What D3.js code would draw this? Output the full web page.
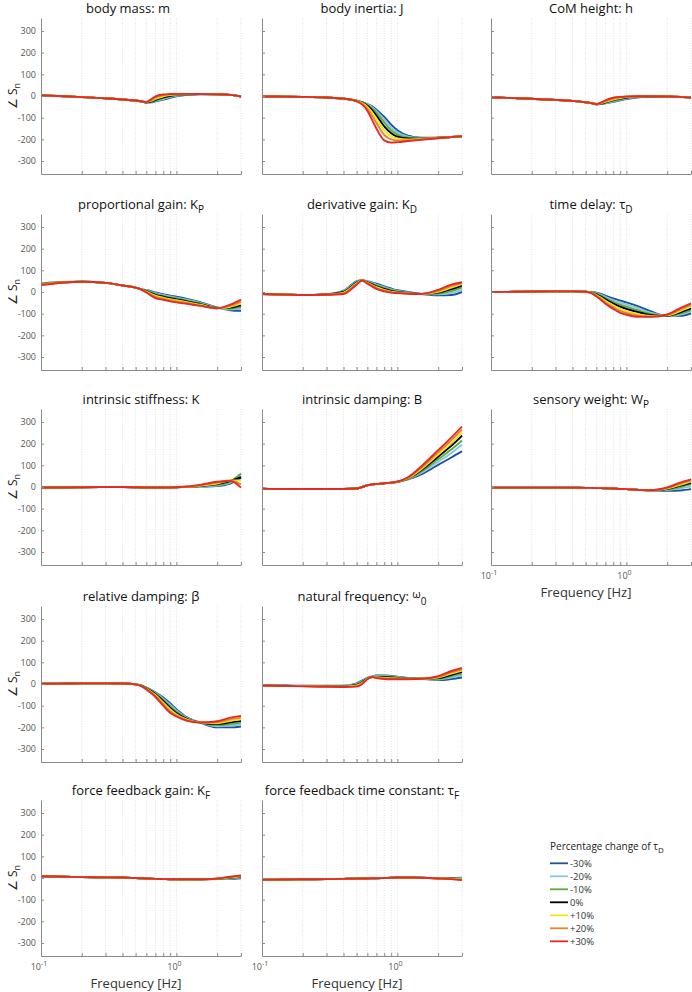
<!DOCTYPE html>
<html>
<head>
<meta charset="utf-8">
<script src="https://cdn.jsdelivr.net/npm/d3@7"></script>
<style>
body { margin: 0; background: #fff; }
text { font-family: "Open Sans", sans-serif; }
</style>
</head>
<body>
<svg id="chart" width="692" height="992"></svg>
<script>
// frequencies (Hz) at which each curve is sampled
const freq = [0.1, 0.15, 0.2, 0.3, 0.4, 0.5, 0.55, 0.6, 0.65, 0.7, 0.8, 0.9, 1.0, 1.2, 1.5, 2.0, 2.5, 3.0];

const seriesLabels = ["-30%", "-20%", "-10%", "0%", "+10%", "+20%", "+30%"];
const seriesColors = ["#1d4f9d", "#82c6e8", "#5fab3e", "#000000", "#f2e21e", "#e0892c", "#e32a24"];

const yTicks = [-300, -200, -100, 0, 100, 200, 300];
const xGrid = [0.2, 0.3, 0.4, 0.5, 0.6, 0.7, 0.8, 0.9, 1, 2, 3];

// phase of S_n (deg), one row per series: -30% .. +30%
const bodyMass = [
  [3, -1, -5, -11, -16, -21, -25, -30, -29, -25, -17, -8, -2, 5, 8, 8, 5, -3],
  [3, -1, -5, -11, -16, -21, -25, -30, -28, -23, -14, -5, 1, 6, 8, 8, 5, -3],
  [3, -1, -5, -11, -16, -21, -25, -30, -27, -21, -10, -2, 3, 7, 9, 8, 5, -3],
  [3, -1, -5, -11, -16, -21, -25, -29, -26, -18, -6, 1, 5, 8, 9, 8, 5, -3],
  [3, -1, -5, -11, -16, -21, -25, -28, -23, -13, -2, 4, 7, 9, 9, 8, 5, -3],
  [3, -1, -5, -11, -16, -21, -25, -28, -20, -8, 3, 7, 9, 10, 9, 8, 5, -3],
  [3, -1, -5, -11, -16, -21, -25, -27, -15, -2, 7, 9, 10, 10, 9, 8, 5, -3]
];
const bodyInertia = [
  [-2, -3, -4, -7, -12, -21, -28, -37, -48, -63, -96, -132, -158, -183, -192, -192, -189, -186],
  [-2, -3, -4, -7, -12, -21, -29, -39, -52, -70, -108, -145, -168, -188, -194, -192, -189, -186],
  [-2, -3, -4, -7, -12, -22, -30, -42, -58, -78, -122, -158, -178, -192, -195, -193, -189, -186],
  [-2, -3, -4, -7, -12, -22, -31, -45, -65, -90, -140, -172, -188, -196, -197, -193, -189, -186],
  [-2, -3, -4, -7, -12, -23, -33, -50, -75, -105, -160, -187, -196, -200, -198, -193, -189, -186],
  [-2, -3, -4, -7, -12, -24, -36, -58, -90, -125, -180, -200, -205, -204, -200, -194, -190, -186],
  [-2, -3, -4, -7, -12, -25, -40, -68, -110, -150, -205, -215, -213, -208, -202, -195, -190, -186]
];
const comHeight = [
  [-6, -10, -13, -18, -23, -29, -33, -38, -37, -34, -27, -20, -14, -7, -3, -2, -4, -8],
  [-6, -10, -13, -18, -23, -29, -33, -38, -36, -33, -25, -18, -12, -5, -3, -2, -4, -8],
  [-6, -10, -13, -18, -23, -29, -33, -38, -36, -31, -22, -15, -9, -4, -2, -2, -4, -8],
  [-6, -10, -13, -18, -23, -29, -33, -38, -35, -29, -19, -12, -7, -3, -2, -2, -4, -8],
  [-6, -10, -13, -18, -23, -29, -33, -38, -34, -27, -16, -9, -5, -2, -1, -2, -4, -8],
  [-6, -10, -13, -18, -23, -29, -33, -37, -32, -24, -12, -6, -3, -1, -1, -2, -4, -8],
  [-6, -10, -13, -18, -23, -29, -33, -37, -30, -20, -8, -4, -2, -1, -1, -2, -4, -8]
];
const propGain = [
  [40, 46, 47, 42, 30, 20, 13, 9, 4, -2, -10, -17, -22, -32, -47, -71, -84, -87],
  [38, 46, 47, 42, 30, 20, 13, 8, 1, -5, -14, -21, -26, -36, -50, -72, -80, -78],
  [37, 46, 47, 42, 30, 20, 12, 6, -2, -9, -18, -25, -30, -40, -53, -73, -76, -70],
  [36, 45, 47, 42, 30, 20, 12, 4, -5, -13, -22, -29, -34, -43, -56, -74, -72, -62],
  [35, 45, 47, 42, 30, 20, 12, 2, -9, -17, -26, -33, -38, -47, -59, -75, -68, -54],
  [34, 45, 47, 42, 30, 20, 11, 0, -13, -22, -31, -38, -43, -51, -62, -75, -63, -45],
  [32, 44, 47, 42, 30, 20, 11, -2, -17, -28, -36, -43, -48, -55, -64, -75, -58, -35]
];
const derivGain = [
  [-9, -12, -14, -10, 6, 50, 55, 50, 44, 38, 26, 16, 8, 0, -9, -15, -14, 0],
  [-9, -12, -14, -10, 4, 48, 55, 48, 41, 34, 22, 12, 5, -2, -9, -11, -5, 10],
  [-9, -12, -14, -11, 2, 46, 55, 46, 38, 30, 18, 8, 3, -4, -9, -7, 4, 20],
  [-9, -12, -14, -11, 0, 43, 55, 44, 35, 26, 14, 5, 0, -5, -9, -3, 13, 30],
  [-9, -12, -14, -12, -3, 40, 55, 42, 32, 22, 10, 2, -2, -6, -9, 1, 20, 36],
  [-9, -12, -14, -12, -6, 37, 54, 40, 29, 18, 6, -1, -4, -7, -9, 5, 27, 41],
  [-9, -12, -14, -13, -9, 34, 53, 38, 26, 14, 3, -3, -5, -8, -9, 10, 34, 45]
];
const timeDelay = [
  [0, 1, 2, 3, 3, 1, 0, -3, -9, -17, -30, -40, -48, -64, -88, -110, -110, -98],
  [0, 1, 2, 3, 3, 1, -1, -5, -13, -22, -37, -49, -57, -73, -95, -111, -104, -90],
  [0, 1, 2, 3, 3, 1, -1, -8, -17, -28, -45, -58, -67, -83, -101, -111, -99, -83],
  [0, 1, 2, 3, 3, 1, -2, -11, -22, -34, -53, -68, -78, -92, -106, -110, -94, -76],
  [0, 1, 2, 3, 3, 1, -3, -14, -27, -41, -62, -78, -88, -101, -110, -108, -88, -68],
  [0, 1, 2, 3, 3, 1, -4, -17, -32, -48, -70, -87, -97, -108, -113, -106, -81, -60],
  [0, 1, 2, 3, 3, 1, -5, -20, -37, -54, -78, -96, -105, -114, -115, -104, -74, -52]
];
const stiffness = [
  [-2, -2, -1, 0, 0, -1, -2, -2, -2, -2, -2, -2, -1, 0, 2, 4, 16, 42],
  [-2, -2, -1, 0, 0, -1, -2, -2, -2, -2, -2, -2, -1, 0, 3, 7, 20, 52],
  [-2, -2, -1, 0, 0, -1, -2, -2, -2, -2, -2, -2, -1, 0, 4, 10, 25, 62],
  [-2, -2, -1, 0, 0, -1, -2, -2, -2, -2, -2, -2, -1, 0, 5, 13, 28, 45],
  [-2, -2, -1, 0, 0, -1, -2, -2, -2, -2, -2, -2, -1, 1, 6, 16, 30, 30],
  [-2, -2, -1, 0, 0, -1, -2, -2, -2, -2, -2, -2, -1, 1, 8, 20, 30, 12],
  [-2, -2, -1, 0, 0, -1, -2, -2, -2, -2, -2, -2, -1, 2, 10, 24, 28, -3]
];
const damping = [
  [-8, -9, -9, -9, -9, -7, 0, 8, 12, 14, 17, 20, 23, 35, 58, 102, 136, 165],
  [-8, -9, -9, -9, -9, -7, 0, 8, 12, 14, 17, 20, 24, 37, 65, 116, 157, 195],
  [-8, -9, -9, -9, -9, -7, 0, 8, 12, 14, 17, 20, 24, 38, 71, 128, 173, 215],
  [-8, -9, -9, -9, -9, -7, 0, 8, 12, 14, 17, 20, 24, 40, 77, 140, 190, 237],
  [-8, -9, -9, -9, -9, -7, 0, 8, 12, 14, 17, 20, 24, 41, 82, 150, 202, 250],
  [-8, -9, -9, -9, -9, -7, 0, 8, 12, 14, 17, 20, 25, 43, 88, 160, 215, 265],
  [-8, -9, -9, -9, -9, -7, 0, 8, 12, 14, 17, 20, 25, 45, 95, 170, 228, 279]
];
const sensWeight = [
  [-3, -3, -3, -3, -3, -4, -4, -5, -5, -6, -7, -9, -10, -13, -15, -18, -16, -10],
  [-3, -3, -3, -3, -3, -4, -4, -5, -5, -6, -7, -9, -10, -13, -15, -14, -6, 2],
  [-3, -3, -3, -3, -3, -4, -4, -5, -5, -6, -7, -9, -10, -13, -15, -11, 0, 12],
  [-3, -3, -3, -3, -3, -4, -4, -5, -5, -6, -7, -9, -10, -13, -15, -9, 6, 20],
  [-3, -3, -3, -3, -3, -4, -4, -5, -5, -6, -7, -9, -10, -13, -15, -7, 10, 25],
  [-3, -3, -3, -3, -3, -4, -4, -5, -5, -6, -7, -9, -10, -13, -15, -5, 15, 30],
  [-3, -3, -3, -3, -3, -4, -4, -5, -5, -6, -7, -9, -10, -13, -15, -2, 20, 35]
];
const relDamping = [
  [1, 2, 3, 3, 2, -2, -7, -17, -27, -38, -62, -89, -116, -154, -178, -200, -200, -196],
  [1, 2, 3, 3, 2, -2, -7, -18, -29, -41, -68, -96, -122, -157, -178, -195, -192, -187],
  [1, 2, 3, 3, 2, -2, -8, -19, -31, -44, -73, -103, -128, -160, -178, -190, -185, -178],
  [1, 2, 3, 3, 2, -2, -8, -20, -33, -47, -79, -110, -134, -162, -178, -185, -177, -170],
  [1, 2, 3, 3, 2, -2, -9, -22, -36, -51, -86, -118, -140, -165, -178, -181, -170, -163],
  [1, 2, 3, 3, 2, -2, -9, -23, -39, -55, -93, -126, -145, -167, -178, -177, -163, -155],
  [1, 2, 3, 3, 2, -2, -10, -25, -42, -60, -100, -133, -150, -170, -178, -172, -155, -147]
];
const natFreq = [
  [-7, -8, -8, -8, -8, 3, 17, 28, 35, 39, 40, 37, 34, 28, 24, 18, 23, 30],
  [-7, -8, -9, -9, -9, 1, 14, 27, 34, 37, 38, 35, 32, 27, 24, 21, 30, 40],
  [-7, -8, -9, -10, -10, -2, 11, 26, 33, 35, 35, 32, 30, 26, 24, 24, 36, 48],
  [-7, -8, -9, -10, -11, -4, 8, 25, 32, 33, 32, 30, 28, 25, 24, 27, 42, 56],
  [-7, -9, -10, -11, -12, -7, 5, 24, 32, 31, 29, 27, 26, 24, 24, 30, 48, 62],
  [-7, -9, -10, -12, -13, -10, 2, 23, 32, 29, 26, 24, 24, 23, 24, 33, 54, 68],
  [-7, -9, -11, -13, -14, -12, 0, 22, 32, 27, 23, 22, 22, 22, 24, 36, 60, 74]
];
const forceGain = [
  [8, 6, 4, 3, 2, 0, -1, -2, -3, -4, -5, -6, -6, -6, -6, -5, -4, -1],
  [8, 6, 4, 3, 2, 0, -1, -2, -3, -4, -5, -6, -6, -6, -6, -5, -2, 2],
  [8, 6, 4, 3, 2, 0, -1, -2, -3, -4, -5, -6, -6, -6, -6, -4, 0, 4],
  [8, 6, 4, 3, 2, 0, -1, -2, -3, -4, -5, -6, -6, -6, -6, -4, 2, 6],
  [8, 6, 4, 3, 2, 0, -1, -2, -3, -4, -5, -6, -6, -6, -6, -3, 3, 8],
  [8, 6, 4, 3, 2, 0, -1, -2, -3, -4, -5, -6, -6, -6, -6, -3, 4, 10],
  [8, 6, 4, 3, 2, 0, -1, -2, -3, -4, -5, -6, -6, -6, -6, -2, 6, 12]
];
const forceTau = [
  [-8, -7, -6, -5, -4, -3, -2, -2, -1, -1, 0, 1, 2, 2, 1, 0, 0, 1],
  [-8, -7, -6, -5, -4, -3, -2, -2, -1, -1, 0, 1, 2, 2, 1, 0, 0, 0],
  [-8, -7, -6, -5, -4, -3, -2, -2, -1, -1, 0, 1, 2, 2, 1, -1, -1, -2],
  [-8, -7, -6, -5, -4, -3, -2, -2, -1, -1, 0, 1, 2, 2, 1, -1, -2, -4],
  [-8, -7, -6, -5, -4, -3, -2, -2, -1, -1, 0, 1, 2, 2, 1, -1, -3, -6],
  [-8, -7, -6, -5, -4, -3, -2, -2, -1, -1, 0, 1, 2, 2, 1, -2, -4, -8],
  [-8, -7, -6, -5, -4, -3, -2, -2, -1, -1, 0, 1, 2, 2, 1, -2, -5, -10]
];

// title text + optional subscript
const titles = [
  ["body mass: m", ""], ["body inertia: J", ""], ["CoM height: h", ""],
  ["proportional gain: K", "P"], ["derivative gain: K", "D"], ["time delay: \u03c4", "D"],
  ["intrinsic stiffness: K", ""], ["intrinsic damping: B", ""], ["sensory weight: W", "P"],
  ["relative damping: \u03b2", ""], ["natural frequency:  ", "0"],
  ["force feedback gain: K", "F"], ["force feedback time constant: \u03c4", "F"]
];

const panelData = [bodyMass, bodyInertia, comHeight, propGain, derivGain, timeDelay,
  stiffness, damping, sensWeight, relDamping, natFreq, forceGain, forceTau];

// layout
const colX = [41, 262, 491];
const rowY = [18, 214, 409, 606, 800];
const pw = 200, ph = 156;
const slots = [[0,0],[0,1],[0,2],[1,0],[1,1],[1,2],[2,0],[2,1],[2,2],[3,0],[3,1],[4,0],[4,1]];
const withXLabels = [8, 11, 12];
const titleDx = [-13, 0, 0, 0, 0, 0, 0, 0, 0, 0, 0, 0, 0];

const svg = d3.select("#chart");
const x = d3.scaleLog().domain([0.1, 3]).range([0, pw]);
const y = d3.scaleLinear().domain([-360, 360]).range([ph, 0]);
const line = d3.line().x(d => x(d[0])).y(d => y(d[1])).curve(d3.curveMonotoneX);

panelData.forEach(function(series, p) {
    var row = slots[p][0], col = slots[p][1];
    var g = svg.append("g").attr("transform", "translate(" + colX[col] + "," + rowY[row] + ")");

    // dotted vertical grid
    g.selectAll(".grid").data(xGrid).enter().append("line")
        .attr("x1", d => x(d)).attr("x2", d => x(d))
        .attr("y1", 0).attr("y2", ph)
        .attr("stroke", "#d8d8d8").attr("stroke-width", 0.8)
        .attr("stroke-dasharray", "1,1.5");

    // curves, blue first so red ends on top
    series.forEach(function(vals, i) {
        g.append("path")
            .datum(vals.map((v, j) => [freq[j], v]))
            .attr("d", line)
            .attr("fill", "none")
            .attr("stroke", seriesColors[i])
            .attr("stroke-width", 1.9);
    });

    var yAxis = d3.axisLeft(y).tickValues(yTicks).tickSizeInner(-3).tickSizeOuter(0).tickPadding(5)
        .tickFormat(col === 0 ? (d => String(d)) : "");
    var ya = g.append("g").call(yAxis);
    var xAxis = d3.axisBottom(x).tickValues(xGrid).tickSizeInner(-3).tickSizeOuter(0).tickFormat("");
    var xa = g.append("g").attr("transform", "translate(0," + ph + ")").call(xAxis);
    [ya, xa].forEach(function(a) {
        a.select(".domain").attr("stroke", "#8a8a8a");
        a.selectAll(".tick line").attr("stroke", "#8a8a8a");
        a.selectAll("text").attr("fill", "#555").style("font-size", "9px").style("font-family", "'Open Sans', sans-serif");
    });

    // title
    var t = g.append("text")
        .attr("x", pw / 2 + titleDx[p]).attr("y", -5)
        .attr("text-anchor", "middle")
        .attr("fill", "#111").style("font-size", "13px")
        .text(titles[p][0]);
    if (p === 10) {
        t.append("tspan").attr("dy", -3).style("font-size", "11px").text("\u03c9");
        t.append("tspan").attr("dy", 7).style("font-size", "10px").text(titles[p][1]);
    } else if (titles[p][1]) {
        t.append("tspan").attr("dy", 4).style("font-size", "10px").text(titles[p][1]);
    }

    // y label on the left column
    if (col === 0) {
        var yl = g.append("text")
            .attr("transform", "translate(-24," + (ph / 2) + ") rotate(-90)")
            .attr("text-anchor", "middle").attr("fill", "#222")
            .style("font-size", "12px").text("\u2220 S");
        yl.append("tspan").attr("dy", 3).style("font-size", "9px").text("n");
    }

    // x tick labels + axis title
    if (withXLabels.indexOf(p) >= 0) {
        [[0.1, "-1"], [1, "0"]].forEach(function(d) {
            var tl = g.append("text").attr("x", x(d[0]) - 2).attr("y", ph + 14)
                .attr("text-anchor", "middle").attr("fill", "#555").style("font-size", "9px").text("10");
            tl.append("tspan").attr("dy", -4).style("font-size", "7px").text(d[1]);
        });
        g.append("text").attr("x", pw / 2 - 5).attr("y", ph + 32)
            .attr("text-anchor", "middle").attr("fill", "#333")
            .style("font-size", "13px").text("Frequency [Hz]");
    }
});

// legend
const lg = svg.append("g").attr("transform", "translate(550,850)");
const lt = lg.append("text").attr("x", 0).attr("y", 0).attr("fill", "#222")
    .style("font-size", "10px").text("Percentage change of \u03c4");
lt.append("tspan").attr("dy", 3).style("font-size", "8px").text("D");
seriesLabels.forEach(function(lab, i) {
    var yy = 13.3 + i * 13;
    lg.append("line").attr("x1", 0).attr("x2", 18).attr("y1", yy).attr("y2", yy)
        .attr("stroke", seriesColors[i]).attr("stroke-width", 1.8);
    lg.append("text").attr("x", 20).attr("y", yy + 3.3).attr("fill", "#333")
        .style("font-size", "9.5px").text(lab);
});
</script>
</body>
</html>
